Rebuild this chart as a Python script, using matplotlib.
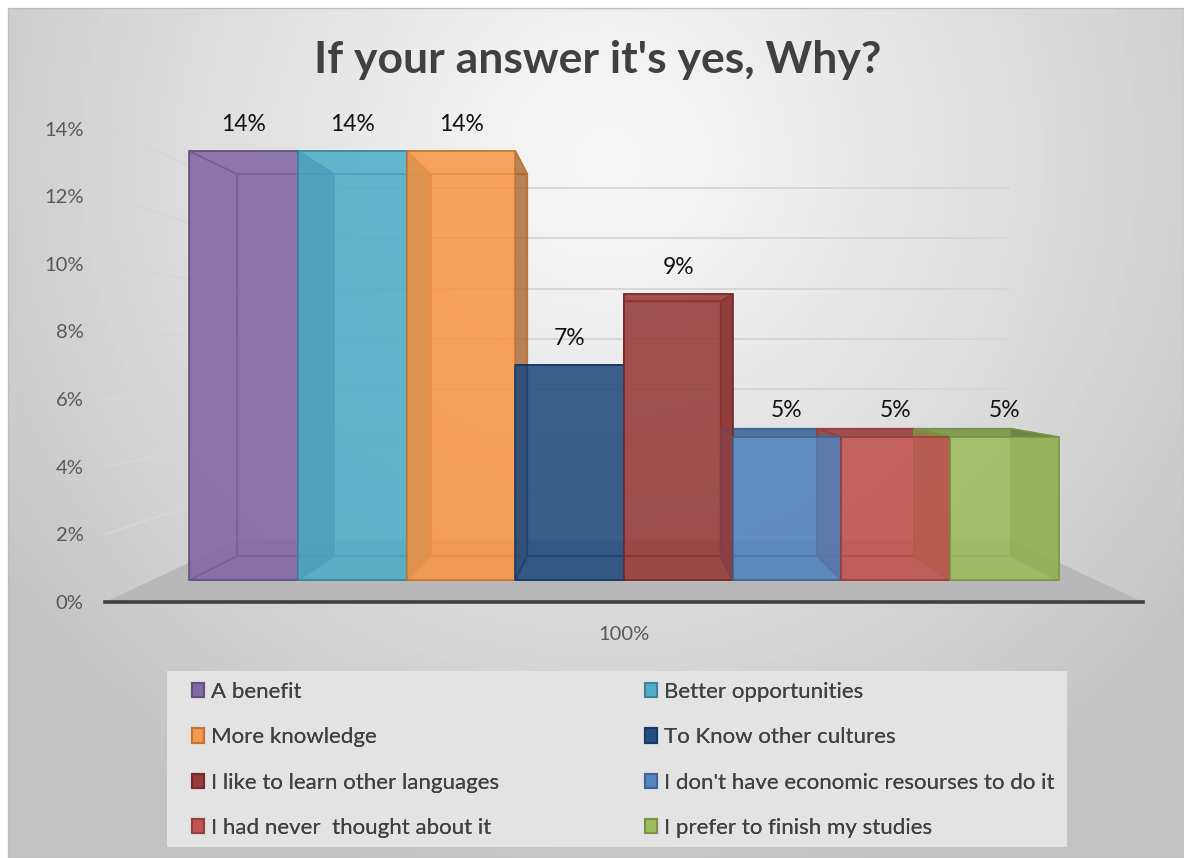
import numpy as np
import matplotlib
matplotlib.use("Agg")
import matplotlib.pyplot as plt
from matplotlib.patches import Polygon, Patch, Rectangle
from matplotlib.colors import to_rgb
from matplotlib.ticker import PercentFormatter

# ---- data -------------------------------------------------------------
reasons = [
    "A benefit",
    "Better opportunities",
    "More knowledge",
    "To Know other cultures",
    "I like to learn other languages",
    "I don't have economic resourses to do it",
    "I had never  thought about it",
    "I prefer to finish my studies",
]
shares = [0.1395, 0.1395, 0.1395, 0.0698, 0.0930, 0.0465, 0.0465, 0.0465]
category = ["100%"]
y_ticks = [0.00, 0.02, 0.04, 0.06, 0.08, 0.10, 0.12, 0.14]
title = "If your answer it's yes, Why?"

# ---- style ------------------------------------------------------------
colors = ["#8064A2", "#4BACC6", "#F79646", "#1F497D",
          "#943634", "#4F81BD", "#C0504D", "#9BBB59"]

W, H = 1184, 858
plt.rcParams["font.family"] = ["Lato", "DejaVu Sans"]
fig = plt.figure(figsize=(W / 100, H / 100), dpi=100, facecolor="white")


def fx(px):
    return px / W


def fy(py):
    return 1 - py / H


# chart-area background: soft radial gradient
bg = fig.add_axes([fx(8), 0, 1 - fx(8), fy(8)], zorder=-10)
gh, gw = 425, 588
yy, xx = np.mgrid[0:gh, 0:gw]
d = np.sqrt(((xx * 2 - 600) / 760.0) ** 2 + ((yy * 2 - 150) / 760.0) ** 2)
shade = 0.97 - 0.21 * np.clip(d, 0, 1) ** 1.15
bg.imshow(shade, cmap="gray", vmin=0, vmax=1, aspect="auto",
          interpolation="bilinear", extent=(0, 1, 0, 1))
bg.set_axis_off()
fig.add_artist(Rectangle((fx(8), 0), 1 - fx(8), fy(8), transform=fig.transFigure,
                         facecolor="none", edgecolor="#bdbdbd", lw=1.0, zorder=-9))

# ---- plot area with a simple perspective view -------------------------
ax = fig.add_axes([fx(105), fy(602), fx(1143) - fx(105), fy(128.5) - fy(602)])
n = len(shares)
XLO, XHI = -0.843, n - 1 + 0.843
ax.set_xlim(XLO, XHI)
ax.set_ylim(0, 0.14)
ax.patch.set_visible(False)

VX, VY = (n - 1) / 2.0, 0.0713          # vanishing point
S_FRONT, S_BACK, S_WALL = 0.909, 0.809, 0.744


def proj(x, y, s):
    return (VX + (x - VX) * s, VY + (y - VY) * s)


# floor
floor = [proj(XLO, 0, 1), proj(XHI, 0, 1), proj(XHI, 0, S_WALL), proj(XLO, 0, S_WALL)]
ax.add_patch(Polygon(floor, closed=True, facecolor="#b8b8b8", edgecolor="none",
                     zorder=1.5, clip_on=False))

# gridlines on side wall and back wall
for t in y_ticks[1:]:
    a = proj(XLO, t, 1)
    b = proj(XLO, t, S_WALL)
    c = proj(XHI, t, S_WALL)
    ax.plot([a[0], b[0]], [a[1], b[1]], color="#d6d6d6", lw=1.4, zorder=2,
            clip_on=False, solid_capstyle="butt")
    ax.plot([b[0], c[0]], [b[1], c[1]], color="#d6d6d6", lw=1.4, zorder=2,
            clip_on=False, solid_capstyle="butt")


def add_face(pts, fc, ec, z):
    ax.add_patch(Polygon(pts, closed=True, facecolor=fc, edgecolor=ec, lw=1.2,
                         zorder=z, clip_on=False, joinstyle="miter"))


for i, (v, col) in enumerate(zip(shares, colors)):
    base = np.array(to_rgb(col))
    dark = base * 0.65
    edge = (*(base * 0.78), 0.9)
    x0, x1 = i - 0.5, i + 0.5

    def corners(s):
        return [proj(x0, 0, s), proj(x1, 0, s), proj(x1, v, s), proj(x0, v, s)]

    F = corners(S_FRONT)
    B = corners(S_BACK)
    back = B
    bottom = [F[0], F[1], B[1], B[0]]
    top = [F[3], F[2], B[2], B[3]]
    left = [F[0], B[0], B[3], F[3]]
    right = [F[1], B[1], B[2], F[2]]

    add_face(back, (*base, 0.3), edge, 3)
    add_face(bottom, (*base, 0.3), edge, 3)
    if v < VY:
        add_face(top, (*(base * 0.78), 0.85), edge, 3)
    else:
        add_face(top, (*base, 0.25), edge, 3)
    add_face(left, (*base, 0.3), edge, 3)
    add_face(right, (*dark, 0.72), edge, 3)
    add_face(F, (*base, 0.8), edge, 4)

    ax.annotate(f"{v:.0%}", xy=proj(i, v, S_FRONT), xytext=(0, 19.4),
                textcoords="offset points", ha="center", va="center",
                fontsize=16.5, color="#111111", zorder=6, annotation_clip=False)

# axes decoration
for side in ("left", "right", "top"):
    ax.spines[side].set_visible(False)
ax.spines["bottom"].set_color("#404040")
ax.spines["bottom"].set_linewidth(2.6)
ax.spines["bottom"].set_zorder(5)
ax.set_yticks(y_ticks)
ax.yaxis.set_major_formatter(PercentFormatter(1.0, decimals=0))
ax.set_xticks([VX])
ax.set_xticklabels(category)
ax.tick_params(axis="y", length=0, pad=15.5, labelsize=14.5, labelcolor="#595959")
ax.tick_params(axis="x", length=0, pad=17, labelsize=14.5, labelcolor="#595959")

# title
fig.text(fx(597.5), fy(73), title, ha="center", va="baseline", fontsize=32,
         fontweight="bold", color="#404040")

# legend: light panel with two columns of entries
fig.add_artist(Rectangle((fx(167), fy(847)), fx(1067) - fx(167), fy(671) - fy(847),
                         transform=fig.transFigure, facecolor="#e3e3e3",
                         edgecolor="none", zorder=1))
handles = [Patch(facecolor=(*to_rgb(c), 0.8), edgecolor=tuple(np.array(to_rgb(c)) * 0.78),
                 lw=1.5) for c in colors]
leg_kw = dict(loc="upper left", frameon=False, fontsize=16, labelcolor="#404040",
              handlelength=0.54, handleheight=0.63, handletextpad=0.3,
              labelspacing=1.14, borderpad=0, borderaxespad=0)
for k, xpix in enumerate((192, 645)):
    idx = list(range(k, n, 2))
    leg = fig.legend([handles[j] for j in idx], [reasons[j] for j in idx],
                     bbox_to_anchor=(fx(xpix), fy(682)), **leg_kw)
    leg.set_zorder(2)
    fig.add_artist(leg)

fig.savefig("out.png", dpi=100, facecolor="white")
